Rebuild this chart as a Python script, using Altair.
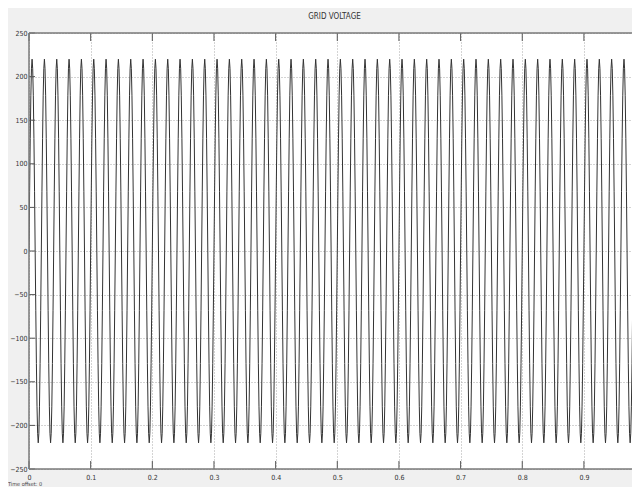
import altair as alt
import pandas as pd

TITLE = "GRID VOLTAGE"
OFFSET_TEXT = "Time offset:  0"
SAMPLE_STEP = 0.001          # seconds between samples
# one period (20 ms) of the grid voltage, 1 ms apart
CYCLE = [0, 68, 129, 178, 209, 220, 209, 178, 129, 68,
         0, -68, -129, -178, -209, -220, -209, -178, -129, -68]
N_CYCLES = 50
Y_TICKS = [-250, -200, -150, -100, -50, 0, 50, 100, 150, 200, 250]
X_TICKS = [0, 0.1, 0.2, 0.3, 0.4, 0.5, 0.6, 0.7, 0.8, 0.9]
X_VISIBLE_MAX = 0.978        # the reference's window cuts the plot just before t = 1

values = CYCLE * N_CYCLES + [CYCLE[0]]
times = [round(i * SAMPLE_STEP, 4) for i in range(len(values))]
df = pd.DataFrame({"t": times, "v": values})

W, H = 603, 436
FONT = "'Liberation Sans Narrow', 'DejaVu Sans Condensed', 'Liberation Sans', Arial, sans-serif"

xs = alt.Scale(domain=[0, X_VISIBLE_MAX], nice=False, zero=False)
ys = alt.Scale(domain=[-250, 250], nice=False, zero=False)

xaxis = alt.Axis(values=X_TICKS, format="~g", title=None, ticks=False,
                 labelPadding=4, grid=True, domain=False, labelFlush=False)
yaxis = alt.Axis(values=Y_TICKS, title=None, ticks=False, labelPadding=2,
                 grid=True, domain=False)

line = alt.Chart(df).mark_line(color="#333333", strokeWidth=1, clip=True).encode(
    x=alt.X("t:Q", scale=xs, axis=xaxis),
    y=alt.Y("v:Q", scale=ys, axis=yaxis),
)

ydf = pd.DataFrame({"y": Y_TICKS})
xdf = pd.DataFrame({"x": X_TICKS})
tick_style = dict(color="#555555", strokeWidth=1)

yt_left = alt.Chart(ydf).mark_rule(**tick_style).encode(
    y=alt.Y("y:Q", scale=ys), x=alt.value(0), x2=alt.value(6))
xt_top = alt.Chart(xdf).mark_rule(**tick_style).encode(
    x=alt.X("x:Q", scale=xs), y=alt.value(0), y2=alt.value(8))
xt_bot = alt.Chart(xdf).mark_rule(**tick_style).encode(
    x=alt.X("x:Q", scale=xs), y=alt.value(H - 8), y2=alt.value(H))

one = pd.DataFrame({"s": [OFFSET_TEXT]})
frame_style = dict(color="#7a7a7a", strokeWidth=1.5)
frame_top = alt.Chart(one).mark_rule(**frame_style).encode(
    x=alt.value(0), x2=alt.value(W + 2), y=alt.value(0))
frame_bot = alt.Chart(one).mark_rule(**frame_style).encode(
    x=alt.value(0), x2=alt.value(W + 2), y=alt.value(H))
frame_left = alt.Chart(one).mark_rule(**frame_style).encode(
    x=alt.value(0), y=alt.value(0), y2=alt.value(H))

note = alt.Chart(one).mark_text(
    align="left", baseline="bottom", fontSize=5.5, color="#444444", font=FONT
).encode(text="s:N", x=alt.value(-21), y=alt.value(H + 18))

chart = alt.layer(line, yt_left, xt_top, xt_bot, frame_top, frame_bot,
                  frame_left, note).properties(
    width=W,
    height=H,
    title=alt.TitleParams(TITLE, fontSize=8, font=FONT, fontWeight="normal",
                          color="#333333", anchor="middle", offset=8,
                          dx=4),
    autosize=alt.AutoSizeParams(type="none"),
    padding={"left": 21, "top": 25, "right": 0, "bottom": 18},
    background="#f0f0f0",
).configure_view(
    fill="white", stroke=None, strokeWidth=0
).configure_axis(
    labelFont=FONT, labelFontSize=7, labelColor="#333333",
    gridColor="#a8a8a8", gridDash=[1, 2], gridWidth=1,
)

chart.save("out.html", embed_options={"renderer": "svg", "actions": False})
